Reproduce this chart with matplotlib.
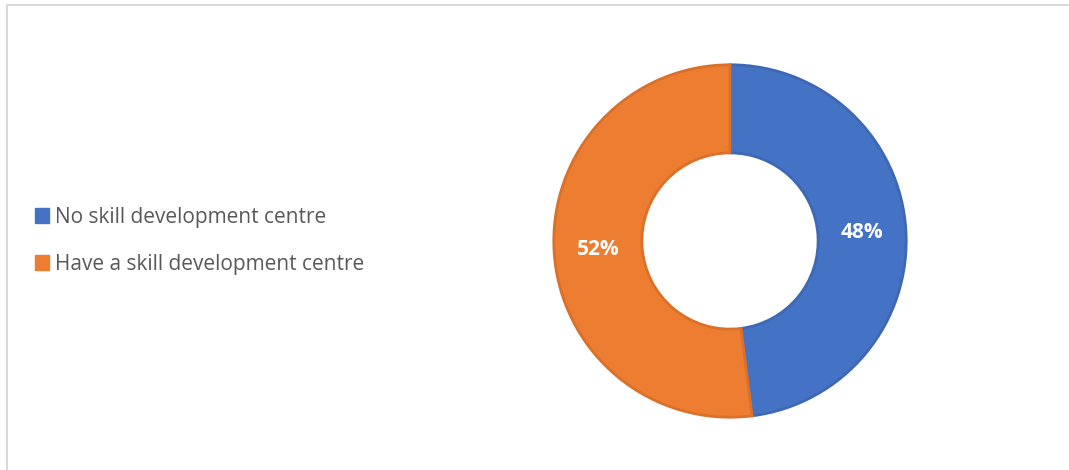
import matplotlib
matplotlib.use("Agg")
import matplotlib.pyplot as plt
from matplotlib.lines import Line2D
from matplotlib.patches import Patch

categories = ["No skill development centre", "Have a skill development centre"]
values = [48, 52]
colors = ["#4472C4", "#ED7D31"]
edge_colors = ["#3E68B4", "#DA7029"]

W, H = 1069, 470
fig = plt.figure(figsize=(W / 100, H / 100), dpi=100)
fig.patch.set_facecolor("white")

cx, cy, r = 730, 241, 178
ax = fig.add_axes([(cx - r) / W, (H - cy - r) / H, 2 * r / W, 2 * r / H])
wedges, texts, autotexts = ax.pie(
    values, colors=colors, startangle=90, counterclock=False,
    radius=0.99, autopct=lambda p: f"{p:.0f}%", pctdistance=0.75,
    wedgeprops=dict(width=0.495, linewidth=2),
    textprops=dict(color="white", fontsize=15, fontweight="bold", family="Open Sans"),
)
for w, ec in zip(wedges, edge_colors):
    w.set_edgecolor(ec)
ax.set_xlim(-1.0, 1.0)
ax.set_ylim(-1.0, 1.0)
ax.set_aspect("equal")
ax.axis("off")

handles = [Patch(facecolor=c, edgecolor=c) for c in colors]
leg = fig.legend(handles, categories, loc="upper left",
                 bbox_to_anchor=(16 / W, 1 - 188 / H), frameon=False,
                 handlelength=0.7, handleheight=0.7, handletextpad=0.25,
                 labelspacing=1.24,
                 prop=dict(family="Open Sans", size=15))
for t in leg.get_texts():
    t.set_color("#595959")

# chart border lines (top and left)
fig.add_artist(Line2D([6.5 / W, 6.5 / W], [0, 1 - 4.5 / H], transform=fig.transFigure,
                      color="#D9D9D9", linewidth=1.5))
fig.add_artist(Line2D([6.5 / W, 1], [1 - 4.5 / H, 1 - 4.5 / H], transform=fig.transFigure,
                      color="#D9D9D9", linewidth=1.5))

fig.savefig("out.png", dpi=100, facecolor="white")
